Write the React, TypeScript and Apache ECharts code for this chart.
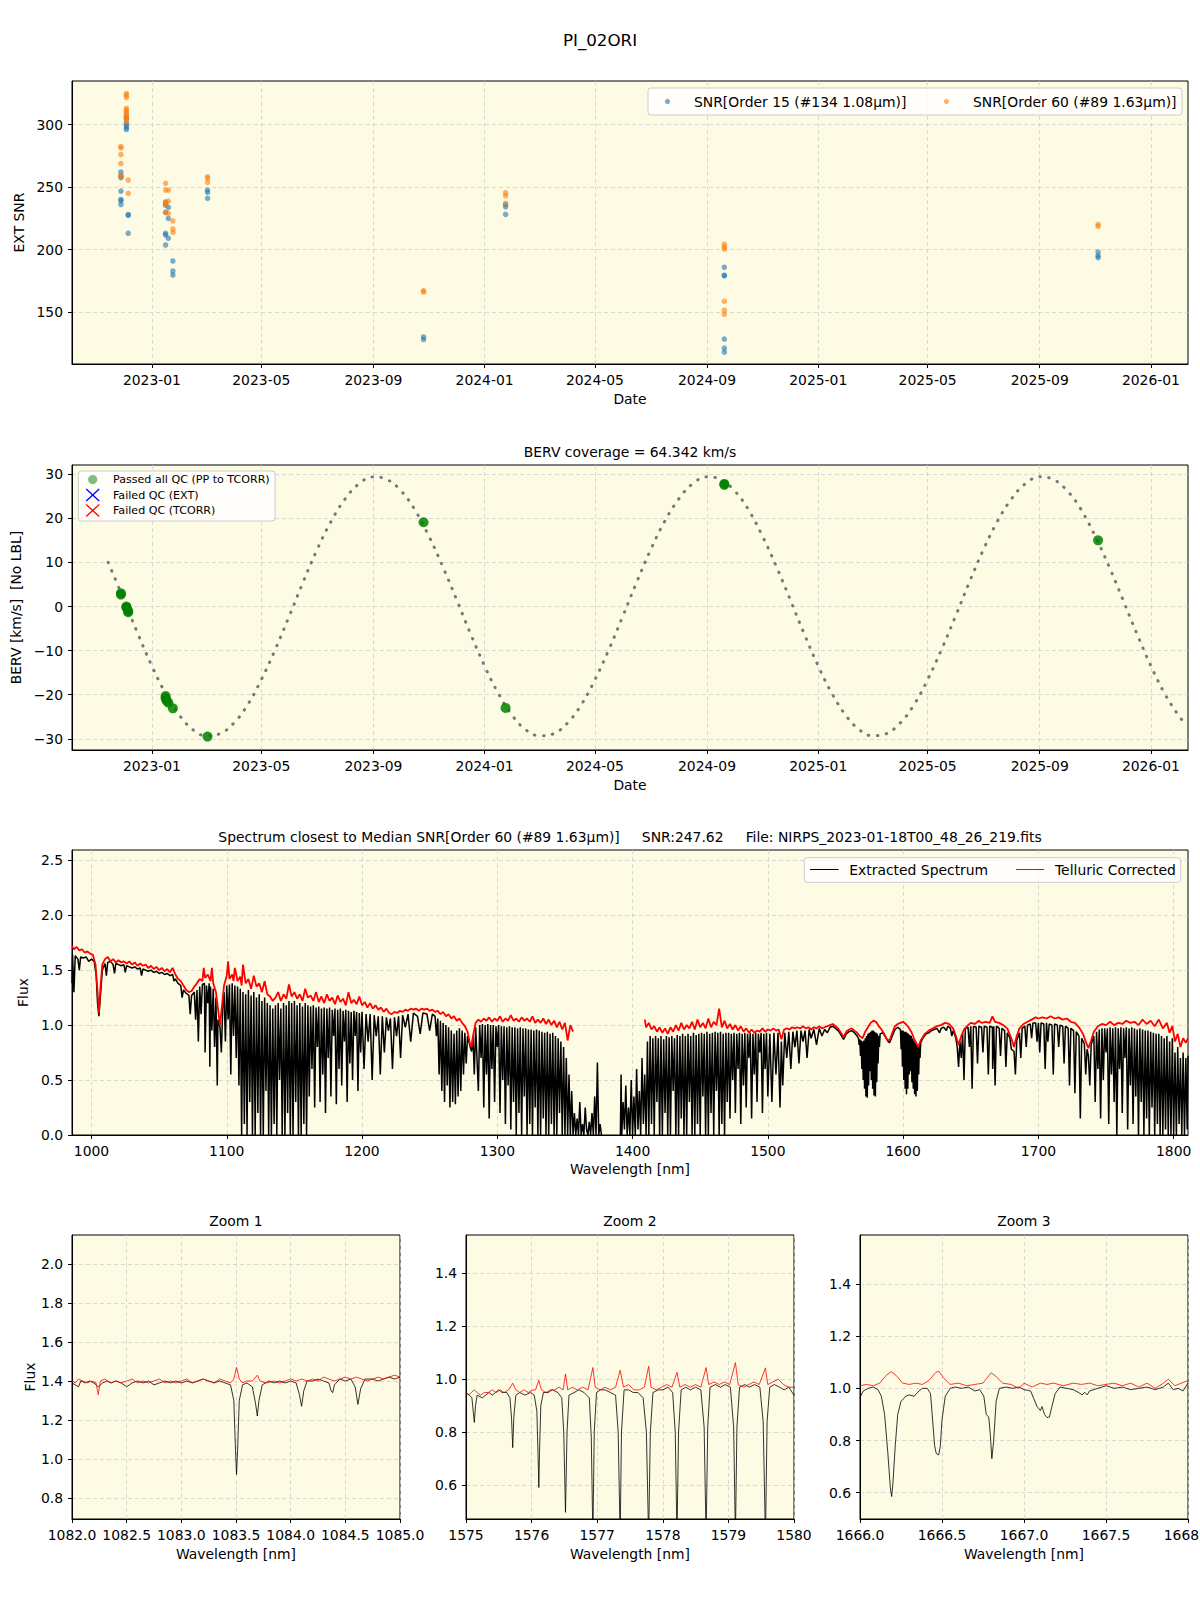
import React, { useEffect, useRef } from "react";
import * as echarts from "echarts";

const FONT = "DejaVu Sans";
const BG = "#fdfbe3";
const GRIDC = "#cfcfcf";
const NB = "\u00A0";

// ---------- Panel 1 : EXT SNR ----------
const snrOrder15: [string, number][] = [
  ["2022-11-28", 262], ["2022-11-28", 259], ["2022-11-28", 257.5], ["2022-11-28", 246.7], ["2022-11-28", 240], ["2022-11-28", 239], ["2022-11-28", 236],
  ["2022-12-04", 306], ["2022-12-04", 304.7], ["2022-12-04", 301], ["2022-12-04", 299.4], ["2022-12-04", 297.6], ["2022-12-04", 296],
  ["2022-12-06", 228], ["2022-12-06", 227.3], ["2022-12-06", 213],
  ["2023-01-16", 237.4], ["2023-01-16", 235.5], ["2023-01-16", 229.7], ["2023-01-16", 213], ["2023-01-16", 211.6], ["2023-01-16", 203.6],
  ["2023-01-19", 233.7], ["2023-01-19", 224.9], ["2023-01-19", 209],
  ["2023-01-24", 190.8], ["2023-01-24", 182.8], ["2023-01-24", 179.6],
  ["2023-03-03", 247.5], ["2023-03-03", 245.7], ["2023-03-03", 240.9],
  ["2023-10-26", 130], ["2023-10-26", 128],
  ["2024-01-24", 236.1], ["2024-01-24", 234.2], ["2024-01-24", 228.1],
  ["2024-09-20", 185.8], ["2024-09-20", 179.4], ["2024-09-20", 179], ["2024-09-20", 128.3], ["2024-09-20", 121.1], ["2024-09-20", 117.9],
  ["2025-11-04", 198], ["2025-11-04", 195], ["2025-11-04", 193.5],
];
const snrOrder60: [string, number][] = [
  ["2022-11-28", 282.4], ["2022-11-28", 281.3], ["2022-11-28", 276], ["2022-11-28", 268.8], ["2022-11-28", 259.3], ["2022-11-28", 258.2],
  ["2022-12-04", 324.8], ["2022-12-04", 323.4], ["2022-12-04", 321.6], ["2022-12-04", 312.8], ["2022-12-04", 311.4], ["2022-12-04", 310.1],
  ["2022-12-04", 308.8], ["2022-12-04", 307.4], ["2022-12-04", 306.1], ["2022-12-04", 304], ["2022-12-04", 302.1],
  ["2022-12-06", 255.5], ["2022-12-06", 244.9],
  ["2023-01-16", 252.9], ["2023-01-16", 247.5], ["2023-01-16", 238.2], ["2023-01-16", 236.9], ["2023-01-16", 235.5], ["2023-01-16", 229.7],
  ["2023-01-19", 247.5], ["2023-01-19", 238.7], ["2023-01-19", 228.9],
  ["2023-01-24", 222.8], ["2023-01-24", 216.4], ["2023-01-24", 213.7],
  ["2023-03-03", 258.2], ["2023-03-03", 256.9], ["2023-03-03", 253.7],
  ["2023-10-26", 167], ["2023-10-26", 166],
  ["2024-01-24", 245.4], ["2024-01-24", 243], ["2024-01-24", 236.9],
  ["2024-09-20", 204.2], ["2024-09-20", 202], ["2024-09-20", 200.4], ["2024-09-20", 158.6], ["2024-09-20", 151.4], ["2024-09-20", 148.2],
  ["2025-11-04", 220], ["2025-11-04", 218.5],
];
const dateTicks = ["2023-01-01", "2023-05-01", "2023-09-01", "2024-01-01", "2024-05-01", "2024-09-01", "2025-01-01", "2025-05-01", "2025-09-01", "2026-01-01"];
const snrTicks = [150, 200, 250, 300];

// ---------- Panel 2 : BERV ----------
const bervCurve: [string, number][] = [
  ["2022-11-14", 10.0], ["2022-12-01", 1.7], ["2022-12-16", -5.9],
  ["2023-01-01", -13.5], ["2023-01-16", -19.7], ["2023-02-01", -24.9], ["2023-02-16", -28.1], ["2023-03-01", -29.3], ["2023-03-16", -28.9],
  ["2023-04-01", -26.4], ["2023-04-16", -22.3], ["2023-05-01", -16.6], ["2023-05-16", -9.9], ["2023-06-01", -2.0], ["2023-06-16", 5.6],
  ["2023-07-01", 12.8], ["2023-07-16", 19.1], ["2023-08-01", 24.4], ["2023-08-16", 27.8], ["2023-09-01", 29.4], ["2023-09-16", 28.8],
  ["2023-10-01", 26.3], ["2023-10-16", 22.1], ["2023-11-01", 15.9], ["2023-11-16", 9.1], ["2023-12-01", 1.7], ["2023-12-16", -5.9],
  ["2024-01-01", -13.5], ["2024-01-16", -19.7], ["2024-02-01", -24.9], ["2024-02-16", -28.1], ["2024-03-01", -29.3], ["2024-03-16", -28.9],
  ["2024-04-01", -26.4], ["2024-04-16", -22.3], ["2024-05-01", -16.6], ["2024-05-16", -9.9], ["2024-06-01", -2.0], ["2024-06-16", 5.6],
  ["2024-07-01", 12.8], ["2024-07-16", 19.1], ["2024-08-01", 24.4], ["2024-08-16", 27.8], ["2024-09-01", 29.4], ["2024-09-16", 28.8],
  ["2024-10-01", 26.3], ["2024-10-16", 22.1], ["2024-11-01", 15.9], ["2024-11-16", 9.1], ["2024-12-01", 1.7], ["2024-12-16", -5.9],
  ["2025-01-01", -13.5], ["2025-01-16", -19.7], ["2025-02-01", -24.9], ["2025-02-16", -28.1], ["2025-03-01", -29.3], ["2025-03-16", -28.9],
  ["2025-04-01", -26.4], ["2025-04-16", -22.3], ["2025-05-01", -16.6], ["2025-05-16", -9.9], ["2025-06-01", -2.0], ["2025-06-16", 5.6],
  ["2025-07-01", 12.8], ["2025-07-16", 19.1], ["2025-08-01", 24.4], ["2025-08-16", 27.8], ["2025-09-01", 29.4], ["2025-09-16", 28.8],
  ["2025-10-01", 26.3], ["2025-10-16", 22.1], ["2025-11-01", 15.9], ["2025-11-16", 9.1], ["2025-12-01", 1.7], ["2025-12-16", -5.9],
  ["2026-01-01", -13.5], ["2026-01-16", -19.7], ["2026-02-01", -24.9], ["2026-02-10", -27.0],
];
const bervPassed: [string, number][] = [
  ["2022-11-28", 2.7], ["2022-11-28", 3.0], ["2022-12-04", -0.2], ["2022-12-04", 0.0], ["2022-12-06", -1.3], ["2022-12-06", -1.0],
  ["2023-01-16", -20.3], ["2023-01-16", -20.8], ["2023-01-17", -21.3], ["2023-01-19", -21.8], ["2023-01-24", -23.1],
  ["2023-03-03", -29.5], ["2023-10-26", 19.1], ["2024-01-24", -23.0], ["2024-09-20", 27.8], ["2024-09-20", 27.6], ["2025-11-04", 15.0],
];
const bervTicks = [-30, -20, -10, 0, 10, 20, 30];

// ---------- Panel 3 : full spectrum ----------
const extractedSpectrum: any[] = [
  [985.6, 1.38], [986, 1.64], [987, 1.30], [988, 1.63], [990, 1.60], [991, 1.50], [992, 1.62], [994, 1.61], [996, 1.62], [998, 1.58], [1000, 1.60],
  [1002, 1.58], [1003.5, 1.45], [1004.5, 1.20], [1005.5, 1.08], [1006.5, 1.25], [1008, 1.50], [1010, 1.56], [1011, 1.45], [1012, 1.57], [1014, 1.58],
  [1016, 1.55], [1017, 1.47], [1018, 1.56], [1020, 1.55], [1022, 1.54], [1024, 1.55], [1025, 1.48], [1026, 1.54], [1028, 1.53], [1030, 1.52],
  [1032, 1.53], [1034, 1.51], [1036, 1.52], [1037, 1.45], [1038, 1.51], [1040, 1.50], [1042, 1.49], [1044, 1.50], [1046, 1.48], [1048, 1.49],
  [1050, 1.47], [1052, 1.48], [1054, 1.46], [1056, 1.47], [1058, 1.45], [1060, 1.46], [1061, 1.40], [1062, 1.42], [1064, 1.38],
  [1066, 1.36], [1067, 1.25], [1068, 1.32], [1070, 1.29], [1072, 1.27], [1073, 1.10], [1074, 1.27], [1076, 1.30], [1077, 1.05], [1078, 1.32],
  [1079, 0.85], [1080, 1.35], [1081, 1.10], [1082, 1.37], [1083.5, 1.38], [1084, 0.75], [1085, 1.36], [1086, 1.20], [1087, 1.38], [1087.5, 0.62],
  [1088, 1.35], [1089, 0.95], [1090, 1.33], [1091, 0.80], [1092, 1.25], [1093, 0.45], [1093.5, 1.05], [1095, 0.98], [1096, 0.75], [1097, 1.15],
  [1098, 1.30], [1099, 0.85], [1100, 1.36], [1101, 1.05], [1102, 1.37], [1103, 0.55], [1104, 1.38], [1105, 0.90], [1106, 1.36], [1107, 0.70],
  [1108, 1.35], [1109, 0.45], [1110, 1.33],
  [1111, 0.0], [1112, 1.30], [1113, 0.1], [1114, 1.28], [1115, 0.0], [1116, 1.32], [1117, 0.3], [1118, 1.27], [1119, 0.0], [1120, 1.30],
  [1121, 0.0], [1122, 1.25], [1123, 0.2], [1124, 1.28], [1125, 0.0], [1126, 1.22], [1127, 0.0], [1128, 1.25], [1129, 0.4], [1130, 1.20],
  [1131, 0.0], [1132, 1.18], [1133, 0.0], [1134, 1.15], [1135, 0.1], [1136, 1.18], [1137, 0.0], [1138, 1.20], [1139, 0.5], [1140, 1.15],
  [1141, 0.0], [1142, 1.20], [1143, 0.0], [1144, 1.18], [1145, 0.2], [1146, 1.22], [1147, 0.0], [1148, 1.20], [1149, 0.0], [1150, 1.22],
  [1151, 0.3], [1152, 1.18], [1153, 0.0], [1154, 1.20], [1155, 0.0], [1156, 1.17], [1157, 0.1], [1158, 1.20], [1159, 0.0], [1160, 1.18],
  [1161, 0.35], [1162, 1.17], [1163, 0.6], [1164, 1.18], [1165, 0.25], [1166, 1.16], [1167, 0.8], [1168, 1.17], [1169, 0.3], [1170, 1.15],
  [1171, 0.55], [1172, 1.16], [1173, 0.2], [1174, 1.15], [1175, 0.7], [1176, 1.16], [1177, 0.35], [1178, 1.14], [1179, 0.9], [1180, 1.15],
  [1181, 0.28], [1182, 1.14], [1183, 0.6], [1184, 1.15], [1185, 0.45], [1186, 1.13], [1187, 0.85], [1188, 1.14], [1189, 0.3], [1190, 1.13],
  [1191, 0.65], [1192, 1.12], [1193, 0.5], [1194, 1.13], [1195, 0.9], [1196, 1.12], [1197, 0.4], [1198, 1.11], [1199, 0.75], [1200, 1.12],
  [1201.5, 0.6], [1203, 1.10], [1204.5, 0.85], [1206, 1.10], [1207.5, 0.5], [1209, 1.09], [1210.5, 0.9], [1212, 1.08], [1213.5, 0.55], [1215, 1.08],
  [1216.5, 0.75], [1218, 1.07], [1219.5, 0.95], [1221, 1.06], [1222.5, 0.6], [1224, 1.07], [1225.5, 0.9], [1227, 1.08], [1228.5, 0.7], [1230, 1.09],
  [1232, 0.98], [1234, 1.10], [1236, 0.85], [1238, 1.11], [1241, 1.08], [1243, 0.92], [1245, 1.11], [1248, 1.10], [1250, 0.95], [1252, 1.10],
  [1254, 1.08], [1255, 0.9],
  [1256, 1.06], [1257, 0.55], [1258, 1.04], [1259, 0.40], [1260, 1.02], [1261, 0.30], [1262, 1.0], [1263, 0.45], [1264, 0.98], [1265, 0.25],
  [1266, 0.95], [1267, 0.30], [1268, 0.92], [1269, 0.28], [1270, 0.95], [1271, 0.35], [1272, 0.97], [1273, 0.40], [1274, 0.95], [1275, 0.55],
  [1276, 0.93], [1277, 0.65], [1278, 0.9], [1279, 0.85], [1280, 0.80], [1281, 0.76], [1282, 0.9], [1283, 0.55], [1284, 0.98],
  [1286, 0.4], [1287, 1.00], [1288, 0.7], [1289, 1.01], [1290, 0.25], [1291, 1.0], [1292, 0.55], [1293, 1.01], [1294, 0.15], [1295, 1.0],
  [1296, 0.6], [1297, 1.0], [1298, 0.3], [1299, 0.99], [1300, 0.8], [1301, 1.0], [1302, 0.2], [1303, 0.99], [1304, 0.5], [1305, 0.99],
  [1306, 0.1], [1307, 0.98], [1308, 0.45], [1309, 0.99], [1310, 0.05], [1311, 0.98], [1312, 0.3], [1313, 0.98], [1314, 0.0], [1315, 0.97],
  [1316, 0.2], [1317, 0.98], [1318, 0.0], [1319, 0.97], [1320, 0.35], [1321, 0.97], [1322, 0.0], [1323, 0.96], [1324, 0.1], [1325, 0.96],
  [1326, 0.0], [1327, 0.95], [1328, 0.25], [1329, 0.96], [1330, 0.0], [1331, 0.95], [1332, 0.0], [1333, 0.94], [1334, 0.15], [1335, 0.93],
  [1336, 0.0], [1337, 0.94], [1338, 0.0], [1339, 0.92], [1340, 0.1], [1341, 0.93], [1342, 0.0], [1343, 0.90], [1344, 0.0], [1345, 0.88],
  [1346, 0.2], [1347, 0.85], [1348, 0.0], [1349, 0.80], [1350, 0.0], [1351, 0.7], [1352, 0.0], [1353, 0.55], [1354, 0.0], [1355, 0.4],
  [1356, 0.0], [1357, 0.2], [1358, 0.0], [1359, 0.15], [1360, 0.0], [1361, 0.3], [1362, 0.0], [1363, 0.1], [1364, 0.0], [1365, 0.25],
  [1366, 0.05], [1367, 0.0], [1368, 0.12], [1369, 0.0], [1370, 0.2], [1371, 0.0], [1372, 0.35], [1373, 0.0], [1374, 0.66], [1375, 0.0],
  [1376, 0.1], [1377, 0.0], [1384, "-"],
  [1391, 0.0], [1391.5, 0.55], [1392, 0.0], [1393, 0.3], [1394, 0.05], [1395, 0.45], [1396, 0.0], [1397, 0.25], [1398, 0.0], [1399, 0.5],
  [1400, 0.0], [1401, 0.35], [1402, 0.0], [1403, 0.6], [1404, 0.05], [1405, 0.4], [1406, 0.0], [1407, 0.7], [1408, 0.1], [1409, 0.55],
  [1410, 0.0], [1411, 0.85], [1412, 0.0], [1413, 0.9], [1414, 0.1], [1415, 0.88], [1416, 0.0], [1417, 0.9], [1418, 0.3], [1419, 0.88],
  [1420, 0.0], [1421, 0.9], [1422, 0.0], [1423, 0.87], [1424, 0.2], [1425, 0.9], [1426, 0.0], [1427, 0.89], [1428, 0.0], [1429, 0.9],
  [1430, 0.4], [1431, 0.88], [1432, 0.0], [1433, 0.91], [1434, 0.0], [1435, 0.9], [1436, 0.15], [1437, 0.92], [1438, 0.0], [1439, 0.9],
  [1440, 0.0], [1441, 0.92], [1442, 0.3], [1443, 0.9], [1444, 0.0], [1445, 0.93], [1446, 0.0], [1447, 0.91], [1448, 0.1], [1449, 0.92],
  [1450, 0.0], [1451, 0.93], [1452, 0.35], [1453, 0.92], [1454, 0.0], [1455, 0.94], [1456, 0.0], [1457, 0.92], [1458, 0.2], [1459, 0.93],
  [1460, 0.0], [1461, 0.94], [1462, 0.4], [1463, 0.93], [1464, 0.0], [1465, 0.94], [1466, 0.1], [1467, 0.92], [1468, 0.0], [1469, 0.93],
  [1470, 0.3], [1471, 0.93], [1472, 0.15], [1473, 0.92], [1474, 0.5], [1475, 0.93], [1476, 0.2], [1477, 0.92], [1478, 0.6], [1479, 0.93],
  [1480, 0.1], [1481, 0.92], [1482, 0.45], [1483, 0.93], [1484, 0.25], [1485, 0.92], [1486, 0.7], [1487, 0.93], [1488, 0.15], [1489, 0.92],
  [1490, 0.55], [1491, 0.93], [1492, 0.3], [1493, 0.92], [1494, 0.75], [1495, 0.93], [1496, 0.2], [1497, 0.92], [1498, 0.6], [1499, 0.93],
  [1500, 0.35], [1501.5, 0.92], [1503, 0.3], [1504.5, 0.93], [1506, 0.55], [1507.5, 0.93], [1509, 0.25], [1510, 0.85], [1511, 0.45], [1512.5, 0.93],
  [1514, 0.7], [1515.5, 0.94], [1517, 0.6], [1518.5, 0.94], [1520, 0.8], [1521.5, 0.95], [1523, 0.65], [1524.5, 0.95], [1526, 0.85], [1527.5, 0.95],
  [1529, 0.7], [1530.5, 0.96], [1532, 0.88], [1534, 0.96], [1536, 0.82], [1538, 0.97], [1540, 0.9], [1542, 0.96], [1544, 0.93], [1546, 0.98],
  [1548, 0.99], [1550, 0.97], [1552, 0.95], [1554, 0.91], [1556, 0.87], [1558, 0.92], [1560, 0.94], [1562, 0.95], [1564, 0.93], [1566, 0.90],
  [1567, 0.88], [1567.5, 0.82], [1568, 0.87], [1568.5, 0.72], [1569, 0.86], [1569.5, 0.60], [1570, 0.85], [1570.5, 0.50], [1571, 0.86], [1571.5, 0.42],
  [1572, 0.88], [1572.5, 0.35], [1573, 0.9], [1573.5, 0.34], [1574, 0.92], [1574.5, 0.45], [1575, 0.93], [1575.5, 0.58], [1576, 0.94], [1576.5, 0.50],
  [1577, 0.95], [1577.5, 0.42], [1578, 0.95], [1578.5, 0.36], [1579, 0.94], [1579.5, 0.35], [1580, 0.93], [1580.5, 0.48], [1581, 0.92], [1581.5, 0.65],
  [1582, 0.9], [1582.5, 0.8], [1583, 0.92], [1585, 0.93], [1587, 0.89], [1589, 0.85], [1590, 0.84], [1592, 0.9], [1594, 0.96], [1596, 0.98], [1597, 0.97],
  [1598, 0.96], [1598.5, 0.78], [1599, 0.95], [1599.5, 0.62], [1600, 0.95], [1600.5, 0.50], [1601, 0.94], [1601.5, 0.42], [1602, 0.94], [1602.5, 0.37],
  [1603, 0.93], [1603.5, 0.42], [1604, 0.92], [1604.5, 0.55], [1605, 0.91], [1605.5, 0.58], [1606, 0.90], [1606.5, 0.48], [1607, 0.88], [1607.5, 0.42],
  [1608, 0.86], [1608.5, 0.37], [1609, 0.84], [1609.5, 0.35], [1610, 0.82], [1610.5, 0.40], [1611, 0.80], [1611.5, 0.55], [1612, 0.82], [1612.5, 0.70],
  [1613, 0.84], [1615, 0.89], [1617, 0.92], [1619, 0.93], [1621, 0.95], [1623, 0.96], [1625, 0.97], [1627, 0.93], [1628, 0.97], [1630, 0.98],
  [1632, 0.95], [1633, 0.99], [1635, 0.97], [1636, 0.90], [1637, 0.95], [1639, 0.88], [1640, 0.80],
  [1641, 0.62], [1642, 0.85], [1643, 0.70], [1644, 0.93], [1645, 0.50], [1646, 0.97], [1648, 0.98], [1649, 0.80], [1650, 0.99], [1651, 0.42],
  [1652, 0.99], [1654, 0.98], [1655, 0.65], [1656, 0.99], [1658, 0.98], [1659, 0.75], [1660, 0.99], [1662, 0.98], [1663, 0.55], [1664, 0.99],
  [1666, 0.98], [1666.2, 0.6], [1667, 0.99], [1668, 0.45], [1669, 0.99], [1671, 0.97], [1672, 0.72], [1673, 0.97], [1675, 0.95], [1676, 0.62],
  [1677, 0.93], [1679, 0.88], [1680, 0.78], [1682, 0.76], [1683, 0.55], [1684, 0.86], [1686, 0.93], [1687, 0.70], [1688, 0.97], [1690, 0.99],
  [1691, 0.8], [1692, 1.0], [1694, 1.01], [1695, 0.88], [1696, 1.02], [1698, 1.02], [1699, 0.85], [1700, 1.02],
  [1701, 0.75], [1702, 1.02], [1704, 1.01], [1705, 0.6], [1706, 1.02], [1707, 0.85], [1708, 1.01], [1710, 1.0], [1711, 0.55], [1712, 1.01],
  [1714, 1.0], [1715, 0.8], [1716, 1.0], [1718, 0.99], [1719, 0.65], [1720, 0.99], [1722, 0.97], [1723, 0.45], [1724, 0.97], [1726, 0.95],
  [1727, 0.38], [1728, 0.94], [1730, 0.90], [1731, 0.15], [1732, 0.88], [1734, 0.83], [1735, 0.55], [1736, 0.78], [1737, 0.72], [1738, 0.45],
  [1739, 0.82], [1741, 0.90],
  [1742, 0.3], [1743, 0.94], [1744, 0.6], [1745, 0.96], [1746, 0.15], [1747, 0.97], [1748, 0.5], [1749, 0.97], [1750, 0.75], [1751, 0.97],
  [1752, 0.1], [1753, 0.98], [1754, 0.55], [1755, 0.97], [1756, 0.3], [1757, 0.98], [1758, 0.0], [1759, 0.97], [1760, 0.6], [1761, 0.98],
  [1762, 0.2], [1763, 0.97], [1764, 0.7], [1765, 0.98], [1766, 0.05], [1767, 0.97], [1768, 0.45], [1769, 0.98], [1770, 0.1], [1771, 0.97],
  [1772, 0.35], [1773, 0.96], [1774, 0.0], [1775, 0.97], [1776, 0.3], [1777, 0.96], [1778, 0.0], [1779, 0.95], [1780, 0.15], [1781, 0.95],
  [1782, 0.0], [1783, 0.94], [1784, 0.25], [1785, 0.93], [1786, 0.0], [1787, 0.92], [1788, 0.1], [1789, 0.92], [1790, 0.0],
  [1791, 0.9], [1792, 0.0], [1793, 0.88], [1794, 0.05], [1795, 0.9], [1796, 0.0], [1797, 0.85], [1798, 0.0], [1799, 0.88], [1800, 0.0],
  [1801, 0.75], [1802, 0.0], [1803, 0.8], [1804, 0.1], [1805, 0.7], [1806, 0.0], [1807, 0.75], [1808, 0.0], [1809, 0.7], [1810, 0.05], [1810.6, 0.72],
];
const telluricCorrected: any[] = [
  [985.6, 1.72], [987, 1.69], [989, 1.71], [991, 1.68], [993, 1.69], [995, 1.66], [997, 1.67], [999, 1.65], [1001, 1.64], [1003, 1.55],
  [1004.5, 1.30], [1005.5, 1.11], [1006.5, 1.32], [1008, 1.55], [1010, 1.60], [1012, 1.62], [1014, 1.58], [1016, 1.60], [1018, 1.57], [1020, 1.59],
  [1022, 1.57], [1024, 1.58], [1026, 1.56], [1028, 1.58], [1030, 1.55], [1032, 1.57], [1034, 1.54], [1036, 1.56], [1038, 1.54], [1040, 1.55],
  [1042, 1.52], [1044, 1.54], [1046, 1.51], [1048, 1.53], [1050, 1.50], [1052, 1.52], [1054, 1.49], [1056, 1.51], [1058, 1.48], [1060, 1.52],
  [1062, 1.46], [1064, 1.42], [1066, 1.40], [1068, 1.36], [1070, 1.32], [1072, 1.30], [1074, 1.31], [1076, 1.35], [1078, 1.38], [1080, 1.42],
  [1082, 1.40], [1083, 1.52], [1084, 1.43], [1086, 1.46], [1088, 1.40], [1089, 1.52], [1090, 1.38], [1092, 1.30], [1093.5, 1.15], [1095, 1.00],
  [1096.5, 1.18], [1098, 1.36], [1100, 1.45], [1101, 1.58], [1102, 1.42], [1104, 1.46], [1105, 1.40], [1106, 1.52], [1108, 1.40], [1110, 1.44],
  [1111, 1.36], [1112, 1.55], [1114, 1.38], [1116, 1.42], [1118, 1.33], [1120, 1.45], [1122, 1.35], [1124, 1.38], [1126, 1.30], [1128, 1.40],
  [1130, 1.28], [1132, 1.26], [1134, 1.22], [1136, 1.25], [1138, 1.30], [1140, 1.22], [1142, 1.28], [1144, 1.24], [1146, 1.37], [1148, 1.26],
  [1150, 1.30], [1152, 1.24], [1154, 1.28], [1156, 1.22], [1158, 1.33], [1160, 1.25], [1162, 1.27], [1164, 1.22], [1166, 1.30], [1168, 1.21],
  [1170, 1.26], [1172, 1.20], [1174, 1.28], [1176, 1.22], [1178, 1.25], [1180, 1.19], [1182, 1.27], [1184, 1.21], [1186, 1.24], [1188, 1.18],
  [1190, 1.30], [1192, 1.20], [1194, 1.23], [1196, 1.19], [1198, 1.26], [1200, 1.18], [1202, 1.21], [1204, 1.16], [1206, 1.20], [1208, 1.15],
  [1210, 1.18], [1212, 1.14], [1214, 1.16], [1216, 1.12], [1218, 1.15], [1220, 1.11], [1222, 1.10], [1224, 1.12], [1226, 1.11], [1228, 1.13],
  [1230, 1.12], [1232, 1.14], [1234, 1.13], [1236, 1.15], [1238, 1.14], [1240, 1.15], [1242, 1.13], [1244, 1.15], [1246, 1.14], [1248, 1.15],
  [1250, 1.13], [1252, 1.14], [1254, 1.12], [1256, 1.13], [1258, 1.10], [1260, 1.12], [1262, 1.08], [1264, 1.10], [1266, 1.06], [1268, 1.08],
  [1270, 1.04], [1272, 1.06], [1274, 1.02], [1276, 0.99], [1278, 0.94], [1280, 0.82], [1281, 0.80], [1282, 0.90], [1284, 1.02], [1286, 1.05],
  [1288, 1.03], [1290, 1.06], [1292, 1.04], [1294, 1.07], [1296, 1.03], [1298, 1.06], [1300, 1.04], [1302, 1.08], [1304, 1.03], [1306, 1.06],
  [1308, 1.04], [1310, 1.09], [1312, 1.04], [1314, 1.06], [1316, 1.03], [1318, 1.07], [1320, 1.04], [1322, 1.06], [1324, 1.03], [1326, 1.08],
  [1328, 1.02], [1330, 1.05], [1332, 1.02], [1334, 1.06], [1336, 1.01], [1338, 1.05], [1340, 1.00], [1342, 1.04], [1344, 0.98], [1346, 1.03],
  [1348, 0.96], [1350, 1.02], [1352, 0.86], [1354, 1.00], [1356, 0.94], [1380, "-"],
  [1409, 1.05], [1410, 0.98], [1412, 1.02], [1414, 0.96], [1416, 0.99], [1418, 0.94], [1420, 0.98], [1422, 0.93], [1424, 0.97], [1426, 0.92],
  [1428, 0.98], [1430, 0.94], [1432, 1.00], [1434, 0.95], [1436, 1.02], [1438, 0.96], [1440, 1.00], [1442, 0.97], [1444, 1.03], [1446, 0.96],
  [1448, 1.05], [1450, 0.98], [1452, 1.02], [1454, 0.97], [1456, 1.06], [1458, 0.98], [1460, 1.03], [1462, 1.00], [1464, 1.15], [1466, 0.98],
  [1468, 1.04], [1470, 0.97], [1472, 1.01], [1474, 0.96], [1476, 1.00], [1478, 0.95], [1480, 0.99], [1482, 0.94], [1484, 0.97], [1486, 0.93],
  [1488, 0.96], [1490, 0.93], [1492, 0.95], [1494, 0.94], [1496, 0.97], [1498, 0.94], [1500, 0.96], [1502, 0.95], [1504, 0.97], [1506, 0.95],
  [1508, 0.96], [1510, 0.87], [1512, 0.96], [1514, 0.97], [1516, 0.96], [1518, 0.98], [1520, 0.97], [1522, 0.98], [1524, 0.97], [1526, 0.99],
  [1528, 0.97], [1530, 0.98], [1532, 0.96], [1534, 0.98], [1536, 0.97], [1538, 0.99], [1540, 0.97], [1542, 0.98], [1544, 0.99], [1546, 1.00],
  [1548, 1.01], [1550, 0.99], [1552, 0.97], [1554, 0.93], [1556, 0.89], [1558, 0.94], [1560, 0.96], [1562, 0.97], [1564, 0.95], [1566, 0.93],
  [1568, 0.90], [1570, 0.88], [1572, 0.94], [1574, 0.98], [1576, 1.02], [1578, 1.04], [1580, 1.03], [1582, 0.99], [1584, 0.96], [1586, 0.92],
  [1588, 0.87], [1590, 0.86], [1592, 0.93], [1594, 0.99], [1596, 1.01], [1598, 1.02], [1600, 1.03], [1602, 1.01], [1604, 0.98], [1606, 0.94],
  [1608, 0.88], [1610, 0.83], [1611, 0.80], [1613, 0.86], [1616, 0.92], [1619, 0.95], [1622, 0.97], [1625, 0.99], [1628, 1.00], [1631, 1.02],
  [1634, 1.01], [1637, 0.97], [1639, 0.90], [1641, 0.82], [1643, 0.90], [1645, 0.96], [1648, 1.00], [1650, 1.02], [1653, 1.01], [1656, 1.04],
  [1658, 1.02], [1661, 1.03], [1664, 1.02], [1666, 1.08], [1668, 1.03], [1671, 1.02], [1674, 1.00], [1677, 0.97], [1680, 0.88], [1682, 0.80],
  [1684, 0.90], [1686, 0.97], [1689, 1.01], [1692, 1.03], [1695, 1.05], [1698, 1.07], [1700, 1.06], [1703, 1.07], [1706, 1.06], [1709, 1.08],
  [1712, 1.06], [1715, 1.07], [1718, 1.05], [1721, 1.06], [1724, 1.03], [1727, 1.02], [1730, 0.98], [1733, 0.92], [1735, 0.85], [1737, 0.79],
  [1739, 0.86], [1741, 0.94], [1744, 0.99], [1747, 1.01], [1750, 1.00], [1753, 1.03], [1756, 1.00], [1759, 1.02], [1762, 1.01], [1765, 1.04],
  [1768, 1.02], [1771, 1.03], [1774, 1.00], [1777, 1.05], [1780, 1.01], [1783, 1.04], [1786, 0.99], [1789, 1.05], [1792, 0.97], [1795, 1.02],
  [1797, 0.93], [1799, 0.99], [1801, 0.85], [1803, 0.92], [1805, 0.80], [1807, 0.88], [1809, 0.84], [1810.6, 0.88],
];
const wlTicks = [1000, 1100, 1200, 1300, 1400, 1500, 1600, 1700, 1800];
const fluxTicks = [0, 0.5, 1.0, 1.5, 2.0, 2.5];

// ---------- Zoom panels ----------
const zoom1Extracted: [number, number][] = [
  [1082.0, 1.39], [1082.03, 1.38], [1082.06, 1.37], [1082.08, 1.40], [1082.12, 1.39], [1082.16, 1.40], [1082.2, 1.39], [1082.24, 1.37],
  [1082.28, 1.39], [1082.32, 1.40], [1082.36, 1.39], [1082.4, 1.40], [1082.45, 1.39], [1082.5, 1.37], [1082.55, 1.39], [1082.6, 1.40],
  [1082.65, 1.39], [1082.7, 1.40], [1082.75, 1.38], [1082.8, 1.39], [1082.85, 1.40], [1082.9, 1.39], [1082.95, 1.40], [1083.0, 1.39],
  [1083.05, 1.40], [1083.1, 1.39], [1083.15, 1.40], [1083.2, 1.41], [1083.25, 1.40], [1083.3, 1.39], [1083.35, 1.40], [1083.4, 1.39],
  [1083.45, 1.38], [1083.48, 1.30], [1083.495, 1.05], [1083.505, 0.92], [1083.515, 1.05], [1083.53, 1.30], [1083.56, 1.38], [1083.6, 1.39],
  [1083.65, 1.37], [1083.68, 1.28], [1083.695, 1.22], [1083.71, 1.30], [1083.74, 1.38], [1083.8, 1.40], [1083.85, 1.39], [1083.9, 1.40],
  [1083.95, 1.39], [1084.0, 1.40], [1084.05, 1.39], [1084.08, 1.33], [1084.1, 1.27], [1084.12, 1.35], [1084.15, 1.40], [1084.2, 1.40],
  [1084.25, 1.41], [1084.3, 1.40], [1084.35, 1.39], [1084.37, 1.35], [1084.385, 1.34], [1084.4, 1.38], [1084.45, 1.41], [1084.5, 1.40],
  [1084.55, 1.41], [1084.59, 1.37], [1084.615, 1.28], [1084.64, 1.36], [1084.68, 1.41], [1084.75, 1.41], [1084.8, 1.40], [1084.85, 1.41],
  [1084.9, 1.42], [1084.95, 1.41], [1085.0, 1.42],
];
const zoom1Telluric: [number, number][] = [
  [1082.0, 1.40], [1082.03, 1.39], [1082.06, 1.41], [1082.1, 1.40], [1082.14, 1.39], [1082.18, 1.40], [1082.22, 1.39], [1082.24, 1.33],
  [1082.26, 1.40], [1082.3, 1.41], [1082.35, 1.39], [1082.4, 1.40], [1082.45, 1.39], [1082.5, 1.40], [1082.55, 1.41], [1082.6, 1.39],
  [1082.65, 1.40], [1082.7, 1.39], [1082.75, 1.40], [1082.8, 1.41], [1082.85, 1.39], [1082.9, 1.40], [1082.95, 1.39], [1083.0, 1.40],
  [1083.05, 1.41], [1083.1, 1.39], [1083.15, 1.40], [1083.2, 1.41], [1083.25, 1.40], [1083.3, 1.39], [1083.35, 1.41], [1083.4, 1.40],
  [1083.45, 1.39], [1083.48, 1.41], [1083.505, 1.47], [1083.53, 1.41], [1083.56, 1.39], [1083.6, 1.40], [1083.65, 1.40], [1083.695, 1.43],
  [1083.72, 1.40], [1083.78, 1.39], [1083.85, 1.40], [1083.9, 1.39], [1083.95, 1.40], [1084.0, 1.41], [1084.05, 1.40], [1084.1, 1.41],
  [1084.15, 1.40], [1084.2, 1.41], [1084.25, 1.40], [1084.3, 1.42], [1084.35, 1.41], [1084.4, 1.40], [1084.45, 1.41], [1084.5, 1.42],
  [1084.55, 1.41], [1084.6, 1.42], [1084.65, 1.41], [1084.7, 1.40], [1084.75, 1.41], [1084.8, 1.42], [1084.85, 1.41], [1084.9, 1.42],
  [1084.95, 1.43], [1085.0, 1.42],
];
const zoom2Extracted: [number, number][] = [
  [1575.0, 0.95], [1575.05, 0.94], [1575.09, 0.93], [1575.11, 0.88], [1575.127, 0.837], [1575.145, 0.90], [1575.17, 0.94], [1575.25, 0.93],
  [1575.3, 0.94], [1575.35, 0.95], [1575.4, 0.94], [1575.45, 0.95], [1575.5, 0.96], [1575.55, 0.95], [1575.62, 0.95], [1575.67, 0.93],
  [1575.695, 0.85], [1575.712, 0.742], [1575.73, 0.86], [1575.76, 0.94], [1575.82, 0.95], [1575.9, 0.94], [1575.98, 0.95], [1576.04, 0.94],
  [1576.08, 0.88], [1576.10, 0.70], [1576.11, 0.592], [1576.12, 0.72], [1576.14, 0.90], [1576.18, 0.95], [1576.25, 0.95], [1576.32, 0.96],
  [1576.4, 0.95], [1576.46, 0.93], [1576.49, 0.80], [1576.517, 0.498], [1576.54, 0.80], [1576.57, 0.94], [1576.65, 0.95], [1576.72, 0.96],
  [1576.8, 0.95], [1576.88, 0.93], [1576.91, 0.78], [1576.934, 0.40], [1576.955, 0.80], [1576.99, 0.95], [1577.05, 0.96], [1577.12, 0.96],
  [1577.2, 0.95], [1577.28, 0.94], [1577.32, 0.80], [1577.35, 0.40], [1577.37, 0.80], [1577.41, 0.96], [1577.48, 0.96], [1577.55, 0.95],
  [1577.62, 0.95], [1577.7, 0.93], [1577.75, 0.80], [1577.784, 0.40], [1577.81, 0.80], [1577.85, 0.95], [1577.93, 0.96], [1578.0, 0.96],
  [1578.08, 0.97], [1578.15, 0.95], [1578.19, 0.80], [1578.216, 0.40], [1578.24, 0.80], [1578.28, 0.96], [1578.35, 0.97], [1578.42, 0.96],
  [1578.5, 0.97], [1578.58, 0.96], [1578.63, 0.82], [1578.66, 0.40], [1578.685, 0.82], [1578.72, 0.97], [1578.8, 0.98], [1578.88, 0.97],
  [1578.95, 0.98], [1579.03, 0.97], [1579.08, 0.82], [1579.107, 0.40], [1579.13, 0.82], [1579.17, 0.97], [1579.25, 0.98], [1579.32, 0.97],
  [1579.4, 0.98], [1579.48, 0.97], [1579.53, 0.84], [1579.565, 0.40], [1579.59, 0.84], [1579.63, 0.97], [1579.7, 0.98], [1579.78, 0.97],
  [1579.85, 0.96], [1579.92, 0.97], [1580.0, 0.94],
];
const zoom2Telluric: [number, number][] = [
  [1575.0, 0.95], [1575.04, 0.94], [1575.08, 0.95], [1575.127, 0.96], [1575.17, 0.95], [1575.22, 0.94], [1575.28, 0.95], [1575.34, 0.95],
  [1575.4, 0.96], [1575.46, 0.95], [1575.52, 0.96], [1575.58, 0.95], [1575.65, 0.96], [1575.712, 0.985], [1575.76, 0.96], [1575.82, 0.95],
  [1575.88, 0.96], [1575.95, 0.95], [1576.02, 0.96], [1576.06, 0.96], [1576.11, 0.996], [1576.15, 0.96], [1576.22, 0.95], [1576.28, 0.96],
  [1576.35, 0.96], [1576.42, 0.97], [1576.48, 0.96], [1576.517, 1.02], [1576.55, 0.96], [1576.62, 0.97], [1576.7, 0.96], [1576.78, 0.97],
  [1576.86, 0.96], [1576.934, 1.044], [1576.97, 0.97], [1577.05, 0.96], [1577.12, 0.97], [1577.2, 0.96], [1577.28, 0.97], [1577.35, 1.034],
  [1577.4, 0.97], [1577.48, 0.98], [1577.56, 0.96], [1577.64, 0.96], [1577.72, 0.97], [1577.784, 1.049], [1577.82, 0.97], [1577.9, 0.96],
  [1577.98, 0.97], [1578.06, 0.98], [1578.14, 0.97], [1578.216, 1.026], [1578.26, 0.97], [1578.34, 0.98], [1578.42, 0.97], [1578.5, 0.98],
  [1578.58, 0.97], [1578.66, 1.044], [1578.7, 0.98], [1578.78, 0.99], [1578.86, 0.98], [1578.94, 0.99], [1579.02, 0.98], [1579.107, 1.063],
  [1579.15, 0.98], [1579.23, 0.97], [1579.31, 0.98], [1579.39, 0.99], [1579.47, 0.98], [1579.565, 1.043], [1579.6, 0.98], [1579.68, 0.99],
  [1579.76, 1.0], [1579.84, 0.98], [1579.92, 0.97], [1580.0, 0.97],
];
const zoom3Extracted: [number, number][] = [
  [1666.0, 0.965], [1666.02, 0.99], [1666.05, 1.0], [1666.08, 1.005], [1666.11, 0.995], [1666.13, 0.97], [1666.15, 0.90], [1666.17, 0.75],
  [1666.185, 0.62], [1666.193, 0.585], [1666.2, 0.63], [1666.215, 0.78], [1666.23, 0.90], [1666.25, 0.95], [1666.28, 0.97], [1666.3, 0.975],
  [1666.33, 0.97], [1666.36, 0.99], [1666.38, 1.0], [1666.41, 1.0], [1666.43, 0.98], [1666.44, 0.90], [1666.455, 0.78], [1666.465, 0.75],
  [1666.48, 0.745], [1666.49, 0.78], [1666.5, 0.88], [1666.52, 0.97], [1666.55, 1.0], [1666.58, 1.005], [1666.62, 1.0], [1666.66, 1.005],
  [1666.7, 0.99], [1666.73, 0.995], [1666.755, 0.97], [1666.77, 0.90], [1666.785, 0.89], [1666.795, 0.82], [1666.804, 0.73], [1666.815, 0.80],
  [1666.83, 0.95], [1666.85, 1.0], [1666.89, 1.005], [1666.93, 1.0], [1666.97, 1.005], [1667.0, 0.995], [1667.04, 0.99], [1667.06, 0.96],
  [1667.08, 0.93], [1667.1, 0.915], [1667.11, 0.93], [1667.125, 0.90], [1667.14, 0.888], [1667.155, 0.89], [1667.17, 0.93], [1667.19, 0.98],
  [1667.22, 1.005], [1667.26, 1.0], [1667.3, 0.995], [1667.33, 0.985], [1667.355, 0.975], [1667.37, 0.985], [1667.385, 0.975], [1667.4, 0.99],
  [1667.45, 1.0], [1667.5, 1.01], [1667.55, 1.0], [1667.6, 1.005], [1667.65, 0.995], [1667.7, 1.0], [1667.75, 1.005], [1667.8, 0.995],
  [1667.85, 1.005], [1667.88, 1.02], [1667.91, 0.995], [1667.94, 1.0], [1667.97, 0.99], [1668.0, 1.02],
];
const zoom3Telluric: [number, number][] = [
  [1666.0, 1.01], [1666.04, 1.015], [1666.08, 1.01], [1666.12, 1.02], [1666.16, 1.05], [1666.19, 1.064], [1666.22, 1.05], [1666.26, 1.02],
  [1666.3, 1.015], [1666.34, 1.02], [1666.38, 1.015], [1666.42, 1.03], [1666.46, 1.06], [1666.48, 1.066], [1666.51, 1.04], [1666.55, 1.015],
  [1666.6, 1.02], [1666.65, 1.01], [1666.7, 1.015], [1666.75, 1.02], [1666.8, 1.06], [1666.83, 1.045], [1666.87, 1.02], [1666.92, 1.015],
  [1666.97, 1.0], [1667.0, 1.02], [1667.05, 1.005], [1667.1, 1.02], [1667.14, 1.015], [1667.18, 1.02], [1667.24, 1.01], [1667.3, 1.02],
  [1667.35, 1.015], [1667.4, 1.02], [1667.45, 1.01], [1667.5, 1.015], [1667.55, 1.02], [1667.6, 1.01], [1667.65, 1.02], [1667.7, 1.005],
  [1667.75, 1.02], [1667.8, 1.0], [1667.85, 1.02], [1667.88, 1.035], [1667.92, 1.01], [1667.96, 1.02], [1668.0, 1.03],
];
const zoom1XTicks = [1082, 1082.5, 1083, 1083.5, 1084, 1084.5, 1085];
const zoom2XTicks = [1575, 1576, 1577, 1578, 1579, 1580];
const zoom3XTicks = [1666, 1666.5, 1667, 1667.5, 1668];
const zoom1YTicks = [0.8, 1.0, 1.2, 1.4, 1.6, 1.8, 2.0];
const zoom23YTicks = [0.6, 0.8, 1.0, 1.2, 1.4];

// ---------- helpers ----------
const ts = (s: string) => Date.parse(s + "T00:00:00Z");
const fmtDate = (v: number) => {
  const dt = new Date(v);
  return dt.getUTCFullYear() + "-" + String(dt.getUTCMonth() + 1).padStart(2, "0");
};
const fmtInt = (v: number) => (v < 0 ? "\u2212" : "") + Math.abs(Math.round(v));
const fmt1 = (v: number) => v.toFixed(1);

function axis(gridIndex: number, min: number, max: number, ticks: number[], fmt: any, name: string, nameGap: number, isX: boolean) {
  return {
    type: "value",
    gridIndex,
    min,
    max,
    name,
    nameLocation: "middle",
    nameGap,
    nameRotate: isX ? 0 : 90,
    nameTextStyle: { fontFamily: FONT, fontSize: 13.9, color: "#000" },
    axisLine: { show: true, onZero: false, lineStyle: { color: "#000", width: 1 } },
    axisTick: { show: true, length: 4, lineStyle: { color: "#000", width: 1 }, customValues: ticks },
    axisLabel: { show: true, customValues: ticks, formatter: fmt, fontFamily: FONT, fontSize: 13.9, color: "#000", margin: 9 },
    splitLine: { show: true, lineStyle: { color: GRIDC, type: [4, 3], width: 0.8 } },
  };
}

const txt = (x: number, y: number, text: string, size: number, align = "center") => ({
  type: "text",
  x,
  y,
  silent: true,
  z: 101,
  style: {
    text,
    fontFamily: FONT,
    fontSize: size,
    fill: "#000",
    align,
    textAlign: align,
    verticalAlign: "middle",
    textVerticalAlign: "middle",
  },
});

const grids = [
  { left: 72, top: 81, width: 1116, height: 283 },
  { left: 72, top: 465, width: 1116, height: 285 },
  { left: 72, top: 850, width: 1116, height: 285 },
  { left: 72, top: 1235, width: 328, height: 284 },
  { left: 466, top: 1235, width: 328, height: 284 },
  { left: 860, top: 1235, width: 328, height: 284 },
].map((g) => ({ ...g, show: true, backgroundColor: BG, borderColor: "#000", borderWidth: 1, containLabel: false, outerBoundsMode: "none" }));

function buildOption() {
  const tMin = Date.parse("2022-10-05T08:00:00Z");
  const tMax = Date.parse("2026-02-10T16:00:00Z");
  const dTicks = dateTicks.map(ts);

  const xAxis = [
    axis(0, tMin, tMax, dTicks, fmtDate, "Date", 28, true),
    axis(1, tMin, tMax, dTicks, fmtDate, "Date", 28, true),
    axis(2, 985.6, 1810.6, wlTicks, (v: number) => String(v), "Wavelength [nm]", 27, true),
    axis(3, 1082, 1085, zoom1XTicks, fmt1, "Wavelength [nm]", 28, true),
    axis(4, 1575, 1580, zoom2XTicks, (v: number) => String(v), "Wavelength [nm]", 28, true),
    axis(5, 1666, 1668, zoom3XTicks, fmt1, "Wavelength [nm]", 28, true),
  ];
  const yAxis = [
    axis(0, 108.4, 334.8, snrTicks, fmtInt, "EXT SNR", 38, false),
    axis(1, -32.54, 32.09, bervTicks, fmtInt, "BERV [km/s]" + NB + NB + "[No LBL]", 40, false),
    axis(2, 0, 2.593, fluxTicks, fmt1, "Flux", 33, false),
    axis(3, 0.691, 2.15, zoom1YTicks, fmt1, "Flux", 35, false),
    axis(4, 0.473, 1.544, zoom23YTicks, fmt1, "", 36, false),
    axis(5, 0.499, 1.588, zoom23YTicks, fmt1, "", 36, false),
  ];

  const lineSeries = (i: number, data: any[], color: string, width: number, z: number) => ({
    type: "line",
    xAxisIndex: i,
    yAxisIndex: i,
    data,
    showSymbol: false,
    symbol: "none",
    clip: true,
    z,
    lineStyle: { color, width },
    silent: true,
  });

  const series: any[] = [
    {
      type: "scatter", xAxisIndex: 0, yAxisIndex: 0, symbolSize: 5.5, silent: true, z: 3,
      itemStyle: { color: "#1f77b4", opacity: 0.6 },
      data: snrOrder15.map(([d, v]) => [ts(d), v]),
    },
    {
      type: "scatter", xAxisIndex: 0, yAxisIndex: 0, symbolSize: 5.5, silent: true, z: 4,
      itemStyle: { color: "#ff7f0e", opacity: 0.6 },
      data: snrOrder60.map(([d, v]) => [ts(d), v]),
    },
    {
      type: "line", xAxisIndex: 1, yAxisIndex: 1, showSymbol: false, symbol: "none", smooth: 0.4, silent: true, z: 3,
      lineStyle: { color: "#777777", width: 3, type: [0.5, 8.5], cap: "round" },
      data: bervCurve.map(([d, v]) => [ts(d), v]),
    },
    {
      type: "scatter", xAxisIndex: 1, yAxisIndex: 1, symbolSize: 10, silent: true, z: 4,
      itemStyle: { color: "#008000", opacity: 0.85 },
      data: bervPassed.map(([d, v]) => [ts(d), v]),
    },
    lineSeries(2, extractedSpectrum, "#000000", 1.5, 3),
    lineSeries(2, telluricCorrected, "#ff0000", 1.8, 4),
    lineSeries(3, zoom1Extracted, "#000000", 0.8, 3),
    lineSeries(3, zoom1Telluric, "#ff0000", 0.8, 4),
    lineSeries(4, zoom2Extracted, "#000000", 0.8, 3),
    lineSeries(4, zoom2Telluric, "#ff0000", 0.8, 4),
    lineSeries(5, zoom3Extracted, "#000000", 0.8, 3),
    lineSeries(5, zoom3Telluric, "#ff0000", 0.8, 4),
  ];

  const legendBox = (x: number, y: number, w: number, h: number) => ({
    type: "rect",
    silent: true,
    shape: { x, y, width: w, height: h, r: 3 },
    style: { fill: "rgba(255,255,255,0.8)", stroke: "#cccccc", lineWidth: 1 },
    z: 100,
  });
  const seg = (x1: number, y1: number, x2: number, y2: number, color: string, w: number) => ({
    type: "line",
    silent: true,
    z: 101,
    shape: { x1, y1, x2, y2 },
    style: { stroke: color, lineWidth: w },
  });
  const cross = (cx: number, cy: number, color: string) => [
    seg(cx - 6.5, cy - 6, cx + 6.5, cy + 6, color, 1.3),
    seg(cx - 6.5, cy + 6, cx + 6.5, cy - 6, color, 1.3),
  ];

  const graphic: any[] = [
    txt(600, 40, "PI_02ORI", 16.7),
    txt(630, 452, "BERV coverage = 64.342 km/s", 13.9),
    txt(630, 837, "Spectrum closest to Median SNR[Order 60 (#89 1.63μm)]" + NB.repeat(5) + "SNR:247.62" + NB.repeat(5) + "File: NIRPS_2023-01-18T00_48_26_219.fits", 13.9),
    txt(236, 1221, "Zoom 1", 13.9),
    txt(630, 1221, "Zoom 2", 13.9),
    txt(1024, 1221, "Zoom 3", 13.9),
    // legend panel 1
    legendBox(648, 88, 534, 27),
    { type: "circle", silent: true, z: 101, shape: { cx: 667.5, cy: 101.5, r: 2.6 }, style: { fill: "#1f77b4", opacity: 0.6 } },
    txt(694, 101.5, "SNR[Order 15 (#134 1.08μm)]", 13.9, "left"),
    { type: "circle", silent: true, z: 101, shape: { cx: 946.5, cy: 101.5, r: 2.6 }, style: { fill: "#ff7f0e", opacity: 0.6 } },
    txt(973, 101.5, "SNR[Order 60 (#89 1.63μm)]", 13.9, "left"),
    // legend panel 2
    legendBox(78.3, 471, 196.7, 50),
    { type: "circle", silent: true, z: 101, shape: { cx: 92.7, cy: 479.5, r: 4.6 }, style: { fill: "#008000", opacity: 0.5 } },
    txt(113, 479.5, "Passed all QC (PP to TCORR)", 11.1, "left"),
    ...cross(92.7, 495, "#0000ff"),
    txt(113, 495, "Failed QC (EXT)", 11.1, "left"),
    ...cross(92.7, 510.5, "#ff0000"),
    txt(113, 510.5, "Failed QC (TCORR)", 11.1, "left"),
    // legend panel 3
    legendBox(804.3, 857.7, 376.4, 24.6),
    seg(810, 869.5, 838.5, 869.5, "#000000", 1),
    txt(849.3, 869.5, "Extracted Spectrum", 13.9, "left"),
    seg(1016, 869.5, 1044, 869.5, "#ff0000", 1),
    txt(1055, 869.5, "Telluric Corrected", 13.9, "left"),
  ];

  return {
    animation: false,
    backgroundColor: "#ffffff",
    textStyle: { fontFamily: FONT },
    grid: grids,
    xAxis,
    yAxis,
    series,
    graphic,
  };
}

export default function App() {
  const ref = useRef<HTMLDivElement>(null);
  useEffect(() => {
    if (!ref.current) return;
    const chart = echarts.init(ref.current, undefined, { renderer: "svg" });
    chart.setOption(buildOption() as any);
    return () => chart.dispose();
  }, []);
  return <div ref={ref} style={{ position: "absolute", left: 0, top: 0, width: 1200, height: 1600 }} />;
}
